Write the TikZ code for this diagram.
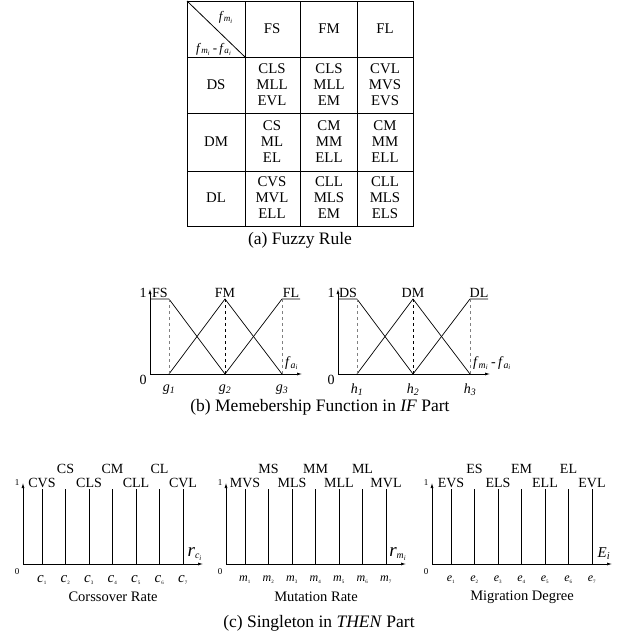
\documentclass[tikz,border=0pt]{standalone}
\usepackage{fontspec}
\setmainfont{Liberation Serif}
\usetikzlibrary{arrows.meta,positioning}
\newcommand\lsub[2]{\textit{#1}\textsubscript{\textit{#2}}}

\begin{document}
\begin{tikzpicture}[x=1pt,y=-1pt,
  tbl/.style={line width=0.8pt},
  cell/.style={font=\fontsize{14.8}{16}\selectfont,align=center,inner sep=0pt},
  capt/.style={font=\fontsize{17.5}{20}\selectfont},
  lbl/.style={font=\fontsize{14}{16}\selectfont,inner sep=1pt},
  small/.style={font=\fontsize{9}{10}\selectfont,inner sep=0pt},
  axisarrow/.style={-{Latex[length=5pt,width=3pt]},line width=0.7pt},
  mf/.style={line width=0.7pt},
  guide/.style={dashed,line width=0.6pt}]
  \useasboundingbox (0,0) rectangle (633,643);

  % (a) rule table
  \draw[tbl] (187,1) rectangle (413,226);
  \foreach \x in {245,300,357} \draw[tbl] (\x,1) -- (\x,226);
  \foreach \y in {57,113,171} \draw[tbl] (187,\y) -- (413,\y);
  \draw[tbl] (187,1) -- (245,57);
  \node[font=\fontsize{13}{14}\selectfont] (hfm) at (226,17) {\lsub{f}{m\textsubscript{i}}};
  \node[font=\fontsize{13}{14}\selectfont] (hdiff) at (214,49) {\lsub{f}{m\textsubscript{i}}\,-\,\lsub{f}{a\textsubscript{i}}};
  \foreach \x/\t in {272/FS,329/FM,385/FL} \node[cell] (col\t) at (\x,29) {\t};
  \foreach \y/\t in {85/DS,142/DM,198/DL} \node[cell] (row\t) at (216,\y) {\t};
  \foreach \x/\y/\t [count=\k] in {
    272/85/{CLS\\MLL\\EVL}, 329/85/{CLS\\MLL\\EM}, 385/85/{CVL\\MVS\\EVS},
    272/142/{CS\\ML\\EL}, 329/142/{CM\\MM\\ELL}, 385/142/{CM\\MM\\ELL},
    272/198/{CVS\\MVL\\ELL}, 329/198/{CLL\\MLS\\EM}, 385/198/{CLL\\MLS\\ELS}}
    \node[cell] (rule\k) at (\x,\y) {\t};
  \node[capt] (capa) at (300,240) {(a) Fuzzy Rule};

  % (b) membership functions
  \foreach \dx/\P/\v/\w/\ax [count=\n] in {
    0/F/g/18/{\lsub{f}{a\textsubscript{i}}},
    188/D/h/18/{\lsub{f}{m\textsubscript{i}}\,-\,\lsub{f}{a\textsubscript{i}}}} {
    \coordinate (bo\n) at (150+\dx,374);
    \coordinate (bp\n1) at (169+\dx,299);
    \coordinate (bp\n2) at (225+\dx,299);
    \coordinate (bp\n3) at (282+\dx,299);
    \draw[axisarrow] (bo\n) -- ++(0,-85);
    \draw[axisarrow] (bo\n) -- ++(152,0);
    \draw[mf] (bo\n |- bp\n1) -- (bp\n1) -- (bp\n2 |- bo\n);
    \draw[mf] (bp\n1 |- bo\n) -- (bp\n2) -- (bp\n3 |- bo\n);
    \draw[mf] (bp\n2 |- bo\n) -- (bp\n3) -- ++(\w,0);
    \draw[guide,gray] (bp\n1) -- (bp\n1 |- bo\n);
    \draw[guide] (bp\n2) -- (bp\n2 |- bo\n);
    \draw[guide,gray] (bp\n3) -- (bp\n3 |- bo\n);
    \node[lbl,anchor=south] (bs\n) at ([xshift=-9pt]bp\n1) {\P S};
    \node[lbl,anchor=south] (bm\n) at (bp\n2) {\P M};
    \node[lbl,anchor=south] (bl\n) at ([xshift=9pt]bp\n3) {\P L};
    \node[lbl] (bone\n) at ([xshift=-7pt]bo\n |- bs\n) {1};
    \node[lbl] (bzero\n) at ([xshift=-7pt,yshift=-6pt]bo\n) {0};
    \foreach \j in {1,2,3}
      \node[lbl] (bv\n\j) at ([yshift=-16pt]bp\n\j |- bo\n) {\lsub{\v}{\j}};
    \node[lbl,anchor=west] (bax\n) at ([xshift=2pt,yshift=11pt]bp\n3 |- bo\n) {\ax};
  }
  \node[capt] (capb) at (320,407) {(b) Memebership Function in \textit{IF} Part};

  % (c) singletons
  \foreach \dx/\P/\v/\vs/\ax/\name [count=\n] in {
    23/C/c/15/{\lsub{\fontsize{19}{20}\selectfont r}{c\textsubscript{i}}}/Corssover Rate,
    226/M/m/12/{\lsub{\fontsize{19}{20}\selectfont r}{m\textsubscript{i}}}/Mutation Rate,
    432/E/e/12/{\fontsize{15}{16}\selectfont\lsub{E}{i}}/Migration Degree} {
    \coordinate (co\n) at (\dx,564);
    \draw[axisarrow] (co\n) -- ++(0,-81);
    \draw[axisarrow] (co\n) -- ++(180,0);
    \node[small] (cone\n) at ([xshift=-6pt]\dx,483) {1};
    \node[small] (czero\n) at ([xshift=-6pt,yshift=-8pt]co\n) {0};
    \node[lbl] (cax\n) at ([xshift=172pt,yshift=10pt]co\n) {\ax};
    \foreach \j in {1,...,7} {
      \coordinate (ct\n\j) at ({\dx+19+23.5*(\j-1)},489);
      \draw[mf] (ct\n\j) -- (ct\n\j |- co\n);
      \node[inner sep=0pt,font=\fontsize{\vs}{\vs}\selectfont] (cv\n\j) at ([yshift=-16pt]ct\n\j |- co\n)
        {\textit{\v}\textsubscript{\fontsize{5}{5}\selectfont\j}};
    }
    \foreach \j/\s in {1/VS,3/LS,5/LL,7/VL}
      \node[lbl,anchor=south] (cl\n\j) at (ct\n\j) {\P\s};
    \foreach \j/\s in {2/S,4/M,6/L}
      \node[lbl,anchor=south] (cl\n\j) at ([yshift=14pt]ct\n\j) {\P\s};
    \node[lbl,font=\fontsize{14.5}{16}\selectfont] (cn\n) at (\dx+90,597) {\name};
  }
  \node[capt] (capc) at (319,623) {(c) Singleton in \textit{THEN} Part};
\end{tikzpicture}
\end{document}
